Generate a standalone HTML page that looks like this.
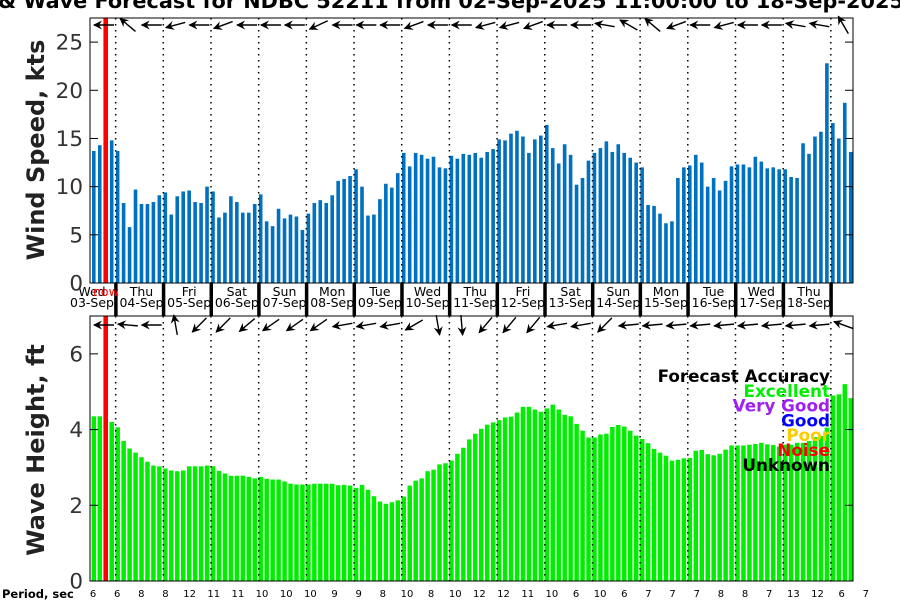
<!DOCTYPE html>
<html><head><meta charset="utf-8"><style>
html,body{margin:0;padding:0;background:#fff;}
svg{display:block;font-family:"DejaVu Sans","Liberation Sans",sans-serif;}
</style></head><body>
<svg id="chart" width="900" height="600" viewBox="0 0 900 600"></svg>
<script>
const windSpeed=[13.7,14.3,14.5,14.8,13.7,8.3,5.8,9.7,8.2,8.2,8.4,9.1,9.4,7.1,9.0,9.5,9.6,8.4,8.3,10.0,9.5,6.8,7.3,9.0,8.4,7.3,7.3,8.2,9.2,6.4,5.9,7.7,6.7,7.1,6.9,5.5,7.2,8.3,8.6,8.3,9.1,10.6,10.8,11.1,11.8,10.0,7.0,7.1,8.7,10.3,9.9,11.4,13.5,12.1,13.5,13.3,12.9,13.1,12.0,11.9,13.2,12.9,13.4,13.3,13.5,13.0,13.6,13.9,14.9,14.8,15.5,15.8,15.2,13.5,14.9,15.3,16.4,14.0,12.4,14.4,13.3,10.2,10.9,12.7,13.5,14.0,14.7,13.6,14.4,13.5,13.0,12.5,12.0,8.1,8.0,7.2,6.2,6.4,10.9,12.0,12.2,13.3,12.5,10.0,10.9,9.6,10.6,12.1,12.3,12.3,12.0,13.1,12.6,11.9,12.0,11.8,11.8,11.0,10.9,14.5,13.4,15.2,15.7,22.8,16.6,15.0,18.7,13.6];
const waveHeight=[4.35,4.35,4.3,4.2,4.06,3.7,3.5,3.39,3.27,3.15,3.05,3.03,2.97,2.92,2.9,2.92,3.03,3.03,3.03,3.05,3.03,2.91,2.84,2.78,2.78,2.78,2.75,2.71,2.75,2.7,2.68,2.68,2.63,2.57,2.55,2.55,2.55,2.57,2.57,2.57,2.57,2.53,2.54,2.52,2.46,2.54,2.41,2.24,2.1,2.04,2.08,2.13,2.23,2.52,2.65,2.71,2.9,2.94,3.08,3.11,3.18,3.36,3.52,3.74,3.89,4.02,4.13,4.19,4.25,4.32,4.34,4.45,4.6,4.6,4.53,4.47,4.56,4.66,4.53,4.39,4.35,4.15,3.97,3.79,3.79,3.87,3.89,4.07,4.12,4.08,3.97,3.84,3.75,3.64,3.49,3.39,3.31,3.18,3.2,3.24,3.25,3.44,3.46,3.35,3.32,3.36,3.47,3.58,3.58,3.58,3.6,3.62,3.65,3.61,3.59,3.55,3.6,3.6,3.65,3.65,3.7,3.8,3.83,4.05,4.9,4.93,5.2,4.83];
const dayNames=["Wed","Thu","Fri","Sat","Sun","Mon","Tue","Wed","Thu","Fri","Sat","Sun","Mon","Tue","Wed","Thu"];
const dayDates=["03-Sep","04-Sep","05-Sep","06-Sep","07-Sep","08-Sep","09-Sep","10-Sep","11-Sep","12-Sep","13-Sep","14-Sep","15-Sep","16-Sep","17-Sep","18-Sep"];
const windDirAngles=[0,40,0,-15,0,-20,0,0,0,-25,0,0,0,-20,0,0,-15,-15,-20,0,0,10,30,40,-20,0,-15,0,0,10,10,60];
const waveDirAngles=[0,5,0,80,-45,-45,-40,-35,-35,-35,-10,-10,-10,-30,-100,-95,-50,-50,-50,-10,-10,-45,-5,-5,-5,-5,-5,-5,-5,-5,-5,20];
const periods=[6,6,8,8,12,11,11,10,10,10,9,9,8,10,8,10,12,12,11,10,6,10,6,7,7,7,8,8,7,13,12,6,7];
const windTicks=[0,5,10,15,20,25];
const waveTicks=[0,2,4,6];
const nowIndex=2;

const NS="http://www.w3.org/2000/svg";
const svg=document.getElementById('chart');
function mk(tag,attrs,parent){const e=document.createElementNS(NS,tag);for(const k in attrs)e.setAttribute(k,attrs[k]);(parent||svg).appendChild(e);return e;}
const L=90,R=853,STEP=5.96,X0=93.8;
const xBar=i=>X0+i*STEP;
const T1=18,B1=283,T2=316,B2=581;
const yWind=v=>B1-(v/27.5)*(B1-T1);
const yWave=v=>B2-(v/7)*(B2-T2);
const dayLineX=k=>X0-2+(4+8*k)*STEP;

let t=mk('text',{x:-2,y:8,'font-size':20.8,'font-weight':'bold',fill:'#000'});
t.textContent="& Wave Forecast for NDBC 52211 from 02-Sep-2025 11:00:00 to 18-Sep-2025";



const c1=mk('clipPath',{id:'c1'});mk('rect',{x:L,y:T1,width:R-L,height:B1-T1},c1);
const c2=mk('clipPath',{id:'c2'});mk('rect',{x:L,y:T2,width:R-L,height:B2-T2},c2);

const g1=mk('g',{'clip-path':'url(#c1)'});
windSpeed.forEach((v,i)=>{const r=mk('rect',{x:xBar(i)-1.8,y:yWind(v),width:3.6,height:B1-yWind(v),fill:'#0070c0'},g1);

});
const g2=mk('g',{'clip-path':'url(#c2)'});
waveHeight.forEach((v,i)=>{const r=mk('rect',{x:xBar(i)-2.2,y:yWave(v),width:4.5,height:B2-yWave(v),fill:'#00ee00'},g2);

});

for(let k=0;k<16;k++){const x=dayLineX(k);
mk('line',{x1:x,y1:T1,x2:x,y2:B1,stroke:'#000','stroke-width':1.5,'stroke-dasharray':'1.5,4.5'});
mk('line',{x1:x,y1:T2,x2:x,y2:B2,stroke:'#000','stroke-width':1.5,'stroke-dasharray':'1.5,4.5'});
mk('rect',{x:x-1.5,y:B1,width:3.5,height:T2-B1,fill:'#000'});}

dayNames.forEach((d,k)=>{const x0=k===0?70:dayLineX(k-1);const x1=dayLineX(k);const cx=k===0?92:(x0+x1)/2+2;
const a=mk('text',{x:cx,y:296,'font-size':12.5,'text-anchor':'middle',fill:'#000'});a.textContent=d;


const b=mk('text',{x:cx,y:307,'font-size':12.5,'text-anchor':'middle',fill:'#000'});b.textContent=dayDates[k];

});
let nw=mk('text',{x:93,y:296,'font-size':12.5,fill:'#ff0000'});nw.textContent="now";



const nx=xBar(nowIndex);
mk('rect',{x:nx-2.3,y:T1,width:4.6,height:B1-T1,fill:'#ff0000'});
mk('rect',{x:nx-2.3,y:T2,width:4.6,height:B2-T2,fill:'#ff0000'});

mk('rect',{x:L,y:T1,width:R-L,height:B1-T1,fill:'none',stroke:'#000','stroke-width':1});
mk('rect',{x:L,y:T2,width:R-L,height:B2-T2,fill:'none',stroke:'#000','stroke-width':1});

windTicks.forEach(v=>{const y=yWind(v);mk('line',{x1:L,y1:y,x2:L+8,y2:y,stroke:'#000'});mk('line',{x1:R-8,y1:y,x2:R,y2:y,stroke:'#000'});
const s=mk('text',{x:83,y:y+7.5,'font-size':21.5,'text-anchor':'end',fill:'#333'});s.textContent=v;

});
waveTicks.forEach(v=>{const y=yWave(v);mk('line',{x1:L,y1:y,x2:L+8,y2:y,stroke:'#000'});mk('line',{x1:R-8,y1:y,x2:R,y2:y,stroke:'#000'});
const s=mk('text',{x:83,y:y+7.5,'font-size':21.5,'text-anchor':'end',fill:'#333'});s.textContent=v;

});

let yt=mk('text',{transform:'translate(44,150) rotate(-90)','font-size':24,'font-weight':'bold','text-anchor':'middle',fill:'#222'});yt.textContent="Wind Speed, kts";


let yt2=mk('text',{transform:'translate(44,450) rotate(-90)','font-size':24,'font-weight':'bold','text-anchor':'middle',fill:'#222'});yt2.textContent="Wave Height, ft";



function arrow(x,y,ang,name){const g=mk('g',{transform:`translate(${x},${y}) rotate(${ang})`});


mk('line',{x1:-10,y1:0,x2:10,y2:0,stroke:'#000','stroke-width':1.4},g);
mk('path',{d:'M-11,0 L-2,-4.5 L-5,0 L-2,4.5 Z',fill:'#000'},g);}
windDirAngles.forEach((a,k)=>arrow(104+k*23.85,25,a,'wind-direction-arrow'));
waveDirAngles.forEach((a,k)=>arrow(104+k*23.85,325,a,'wave-direction-arrow'));

const leg=[["Forecast Accuracy","#000"],["Excellent","#00ee00"],["Very Good","#a020f0"],["Good","#0000ff"],["Poor","#ffcc00"],["Noise","#ff0000"],["Unknown","#000"]];
leg.forEach((l,i)=>{const s=mk('text',{x:830,y:382+i*14.8,'font-size':16.8,'font-weight':'bold','text-anchor':'end',fill:l[1]});s.textContent=l[0];

});

let pl=mk('text',{x:2,y:598,'font-size':11.5,'font-weight':'bold',fill:'#000'});pl.textContent="Period, sec";


periods.forEach((p,k)=>{const s=mk('text',{x:93+k*24.15,y:597,'font-size':10,'text-anchor':'middle',fill:'#000'});s.textContent=p;

});
</script>
</body></html>
